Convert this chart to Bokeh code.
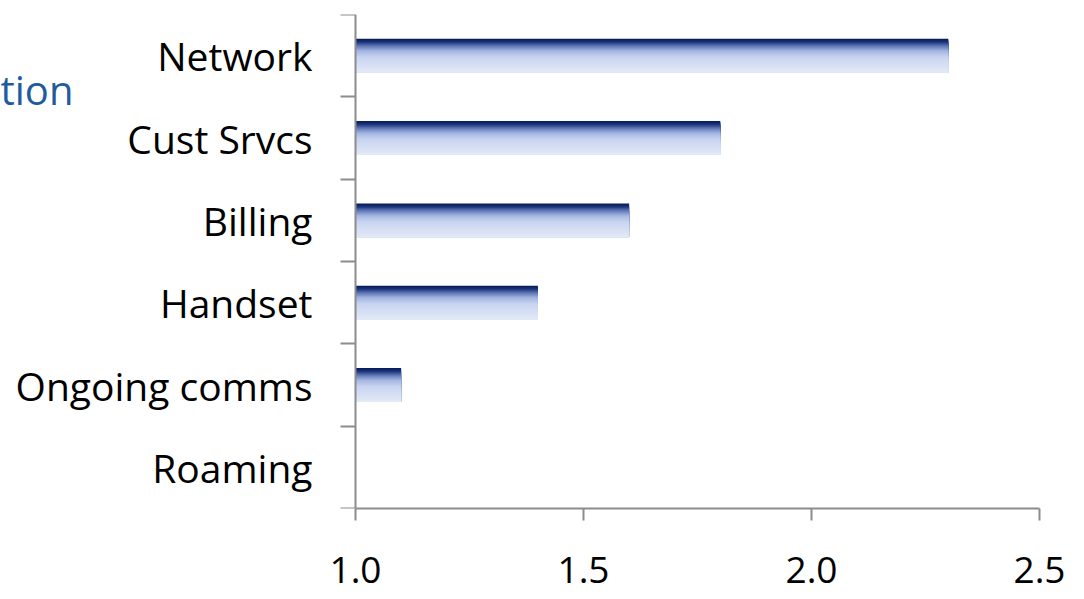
from bokeh.plotting import figure
from bokeh.models import ColumnDataSource, FixedTicker, Range1d, Label, LinearAxis
from bokeh.embed import file_html
from bokeh.resources import INLINE

# ---- data ----
categories = ["Network", "Cust Srvcs", "Billing", "Handset", "Ongoing comms", "Roaming"]
values = [2.3, 1.8, 1.6, 1.4, 1.1, 1.0]
x_ticks = [1.0, 1.5, 2.0, 2.5]
x_tick_labels = ["1.0", "1.5", "2.0", "2.5"]
title_fragment = "tion"

# ---- style / layout ----
FONT = "Open Sans"
AXIS_COLOR = "#8c8c8c"
BAR_H = 0.41
N_SLICES = 30
W, H = 1084, 599
AXIS_PX = 355          # canvas x of the value axis origin
RIGHT_PAD = 45
TOP_PAD, BOTTOM_PAD = 14, 91

def grad_color(t):
    # t: 0 at top (dark navy) -> 1 at bottom (pale blue)
    stops = [(0.0, (10, 30, 90)), (0.08, (25, 50, 122)), (0.2, (95, 118, 182)),
             (0.36, (165, 183, 226)), (0.55, (200, 212, 240)), (1.0, (226, 233, 247))]
    for (t0, c0), (t1, c1) in zip(stops[:-1], stops[1:]):
        if t <= t1:
            f = (t - t0) / (t1 - t0)
            c = [round(a + (b - a) * f) for a, b in zip(c0, c1)]
            return "#%02x%02x%02x" % tuple(c)
    return "#%02x%02x%02x" % stops[-1][1]

n = len(categories)
centers = [n - i - 0.5 for i in range(n)]

# each slice runs from its own top edge down to the bar's bottom edge;
# later (lighter) slices paint over the lower part -> seamless gradient
tops, bottoms, rights, colors = [], [], [], []
for k in range(N_SLICES):
    for c, v in zip(centers, values):
        tops.append(c + BAR_H / 2 - k * BAR_H / N_SLICES)
        bottoms.append(c - BAR_H / 2)
        rights.append(v)
        colors.append(grad_color(k / (N_SLICES - 1)))

src = ColumnDataSource(dict(top=tops, bottom=bottoms, right=rights, color=colors))

# the frame spans the canvas from its left edge so that text can sit at the far left;
# the x range is widened on the left so that x_ticks[0] lands at AXIS_PX
x0, x1 = x_ticks[0], x_ticks[-1]
frame_w = W - RIGHT_PAD
x_start = x0 - AXIS_PX * (x1 - x0) / (frame_w - AXIS_PX)

p = figure(width=W, height=H, output_backend="svg", toolbar_location=None,
           x_range=Range1d(x_start, x1), y_range=Range1d(0, n),
           x_axis_type=None, y_axis_type=None,
           min_border_left=0, min_border_right=RIGHT_PAD,
           min_border_top=TOP_PAD, min_border_bottom=BOTTOM_PAD)

p.quad(top="top", bottom="bottom", left=x0, right="right",
       fill_color="color", line_color=None, source=src)

p.grid.visible = False
p.outline_line_color = None
p.background_fill_color = "white"
p.border_fill_color = "white"

# x axis (value axis), drawn only between its first and last tick
xa = LinearAxis(bounds=(x0, x1))
xa.ticker = FixedTicker(ticks=x_ticks, minor_ticks=[])
xa.major_label_overrides = {t: l for t, l in zip(x_ticks, x_tick_labels)}
xa.axis_line_color = AXIS_COLOR
xa.axis_line_width = 2
xa.major_tick_line_color = AXIS_COLOR
xa.major_tick_line_width = 2
xa.major_tick_out = 12
xa.major_tick_in = 0
xa.minor_tick_line_color = None
xa.major_label_text_font = FONT
xa.major_label_text_font_size = "37px"
xa.major_label_text_color = "black"
xa.major_label_standoff = 36
p.add_layout(xa, "below")

# y axis (category axis), fixed at the value axis origin
ya = LinearAxis(fixed_location=x0)
ya.ticker = FixedTicker(ticks=centers, minor_ticks=list(range(n + 1)))
ya.major_label_overrides = {c: cat for c, cat in zip(centers, categories)}
ya.axis_line_color = AXIS_COLOR
ya.axis_line_width = 2
ya.major_tick_line_color = None
ya.major_tick_out = 0
ya.major_tick_in = 0
ya.minor_tick_line_color = AXIS_COLOR
ya.minor_tick_line_width = 2
ya.minor_tick_out = 15
ya.minor_tick_in = 0
ya.major_label_text_font = FONT
ya.major_label_text_font_size = "39px"
ya.major_label_text_color = "black"
ya.major_label_standoff = 28
p.add_layout(ya, "left")

# clipped title fragment at the left edge (screen units: from frame left / frame bottom)
p.add_layout(Label(x=0, y=H - BOTTOM_PAD - 89, x_units="screen", y_units="screen",
                   text=title_fragment, text_font=FONT, text_font_size="40px",
                   text_color="#1f5c9e", text_baseline="middle", text_align="left"))

open("out.html", "w").write(file_html(p, INLINE))
